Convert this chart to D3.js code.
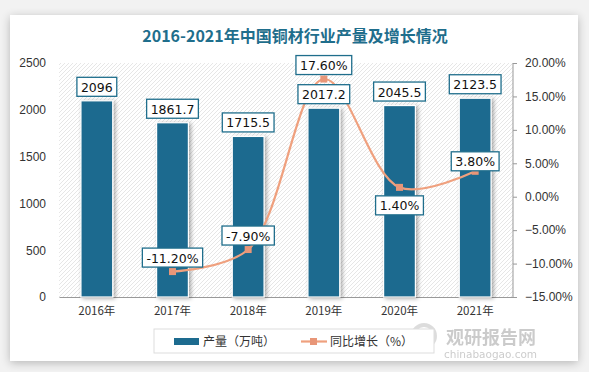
<!DOCTYPE html>
<html>
<head>
<meta charset="utf-8">
<script src="https://cdn.jsdelivr.net/npm/d3@7"></script>
<style>
  body { margin: 0; background: #f2f2f2; }
  svg { display: block; }
</style>
</head>
<body>
<script>
var w = 589,
    h = 372;

var years = ["2016年", "2017年", "2018年", "2019年", "2020年", "2021年"];
var output = [2096, 1861.7, 1715.5, 2017.2, 2045.5, 2123.5];
var growth = [null, -11.2, -7.9, 17.6, 1.4, 3.8];
var leftTicks = [0, 500, 1000, 1500, 2000, 2500];
var rightTicks = [-15, -10, -5, 0, 5, 10, 15, 20];

var barColor = "#1d6b8f",
    lineColor = "#efa07e",
    markColor = "#e89678",
    boxColor = "#1f6e8c";

var plot = { left: 59, right: 513, top: 63, bottom: 297 };

var svg = d3.select("body")
            .append("svg")
            .attr("width", w)
            .attr("height", h);

var defs = svg.append("defs");

var pat = defs.append("pattern")
    .attr("id", "hatch")
    .attr("patternUnits", "userSpaceOnUse")
    .attr("width", 4)
    .attr("height", 4);
pat.append("rect").attr("width", 4).attr("height", 4).attr("fill", "#fff");
pat.append("path")
    .attr("d", "M-1,1 l2,-2 M0,4 l4,-4 M3,5 l2,-2")
    .attr("stroke", "#e0e0e0")
    .attr("stroke-width", 0.8);

var card = defs.append("filter").attr("id", "cardShadow")
    .attr("x", "-5%").attr("y", "-5%").attr("width", "110%").attr("height", "110%");
card.append("feGaussianBlur").attr("in", "SourceAlpha").attr("stdDeviation", 5);
card.append("feOffset").attr("dx", 0).attr("dy", 2).attr("result", "b");
card.append("feComponentTransfer").append("feFuncA").attr("type", "linear").attr("slope", 0.25);
var m1 = card.append("feMerge");
m1.append("feMergeNode");
m1.append("feMergeNode").attr("in", "SourceGraphic");

var barSh = defs.append("filter").attr("id", "barShadow")
    .attr("x", "-30%").attr("y", "-10%").attr("width", "160%").attr("height", "120%");
barSh.append("feGaussianBlur").attr("in", "SourceAlpha").attr("stdDeviation", 2);
barSh.append("feOffset").attr("dx", 2).attr("dy", 1);
barSh.append("feComponentTransfer").append("feFuncA").attr("type", "linear").attr("slope", 0.35);
var m2 = barSh.append("feMerge");
m2.append("feMergeNode");
m2.append("feMergeNode").attr("in", "SourceGraphic");

// card
svg.append("rect")
    .attr("x", 10).attr("y", 15)
    .attr("width", 568).attr("height", 346)
    .attr("fill", "#fff")
    .attr("filter", "url(#cardShadow)");

// title
svg.append("text")
    .attr("x", 295).attr("y", 42)
    .attr("text-anchor", "middle")
    .attr("font-family", "'Noto Sans CJK SC', sans-serif")
    .attr("font-size", "16px")
    .attr("font-weight", "bold")
    .attr("fill", "#1f6e8c")
    .text("2016-2021年中国铜材行业产量及增长情况");

// plot background
svg.append("rect")
    .attr("x", plot.left).attr("y", plot.top)
    .attr("width", plot.right - plot.left)
    .attr("height", plot.bottom - plot.top)
    .attr("fill", "url(#hatch)");

var x = d3.scaleBand()
    .domain(years)
    .range([plot.left, plot.right])
    .paddingInner(0.58)
    .paddingOuter(0.29);

var yL = d3.scaleLinear().domain([0, 2500]).range([plot.bottom, plot.top]);
var yR = d3.scaleLinear().domain([-15, 20]).range([plot.bottom, plot.top]);

var font = "'Liberation Sans', Arial, sans-serif";

// watermark (under the labels)
var wm = svg.append("g").attr("opacity", 0.5);
wm.append("circle")
    .attr("cx", 424).attr("cy", 336).attr("r", 11)
    .attr("fill", "none").attr("stroke", "#bbb").attr("stroke-width", 4);
wm.append("text")
    .attr("x", 446).attr("y", 344)
    .attr("font-family", "'Noto Sans CJK SC', sans-serif")
    .attr("font-size", "18px").attr("font-weight", "bold")
    .attr("fill", "#999")
    .text("观研报告网");
wm.append("text")
    .attr("x", 444).attr("y", 358)
    .attr("font-family", "'DejaVu Sans', sans-serif")
    .attr("font-size", "10.5px")
    .attr("fill", "#999")
    .text("chinabaogao.com");

// left axis
var leftAxis = svg.append("g")
    .attr("transform", "translate(" + plot.left + ",0)")
    .call(d3.axisLeft(yL).tickValues(leftTicks).tickSize(0).tickPadding(13)
        .tickFormat(d3.format("d")));
leftAxis.select(".domain").remove();
leftAxis.selectAll("text")
    .attr("font-family", font).attr("font-size", "12px").attr("fill", "#333");

// right axis
var rightAxis = svg.append("g")
    .attr("transform", "translate(" + plot.right + ",0)")
    .call(d3.axisRight(yR).tickValues(rightTicks).tickSize(4).tickPadding(8)
        .tickFormat(function(d) { return d3.format(".2f")(d) + "%"; }));
rightAxis.select(".domain").attr("stroke", "#999").attr("d", "M0," + plot.top + "V" + plot.bottom);
rightAxis.selectAll("line").attr("stroke", "#999");
rightAxis.selectAll("text")
    .attr("font-family", font).attr("font-size", "12px").attr("fill", "#333");

// bottom axis
var bottomAxis = svg.append("g")
    .attr("transform", "translate(0," + plot.bottom + ")")
    .call(d3.axisBottom(x).tickSize(0).tickPadding(10));
bottomAxis.select(".domain").attr("stroke", "#999").attr("stroke-width", 1.2);
bottomAxis.selectAll("text")
    .attr("font-family", "'Noto Sans CJK SC', sans-serif")
    .attr("font-size", "11.5px").attr("fill", "#333");

// bars
svg.selectAll("rect.bar")
    .data(output)
    .enter()
    .append("rect")
    .attr("class", "bar")
    .attr("x", function(d, i) { return x(years[i]); })
    .attr("y", function(d) { return yL(d); })
    .attr("width", x.bandwidth())
    .attr("height", function(d) { return plot.bottom - yL(d); })
    .attr("fill", barColor)
    .attr("stroke", "#fff")
    .attr("stroke-width", 1.2)
    .attr("filter", "url(#barShadow)");

// growth line
var pts = growth.map(function(d, i) {
    return d === null ? null : [x(years[i]) + x.bandwidth() / 2, yR(d)];
}).filter(function(p) { return p; });

svg.append("path")
    .attr("d", d3.line().curve(d3.curveCatmullRom.alpha(0.5))(pts))
    .attr("fill", "none")
    .attr("stroke", lineColor)
    .attr("stroke-width", 2.2);

svg.selectAll("rect.mark")
    .data(pts)
    .enter()
    .append("rect")
    .attr("class", "mark")
    .attr("x", function(p) { return p[0] - 3.5; })
    .attr("y", function(p) { return p[1] - 3.5; })
    .attr("width", 7).attr("height", 7)
    .attr("fill", markColor);

// label boxes
function labelBox(cx, cy, txt) {
    var g = svg.append("g");
    var t = g.append("text")
        .attr("x", cx).attr("y", cy + 5)
        .attr("text-anchor", "middle")
        .attr("font-family", "'DejaVu Sans', sans-serif")
        .attr("font-size", "12.5px")
        .attr("fill", "#111")
        .text(txt);
    var bb = t.node().getBBox();
    g.insert("rect", "text")
        .attr("x", cx - bb.width / 2 - 4)
        .attr("y", cy - 9.5)
        .attr("width", bb.width + 8)
        .attr("height", 19)
        .attr("fill", "#fff")
        .attr("stroke", boxColor)
        .attr("stroke-width", 1.3);
}

output.forEach(function(d, i) {
    labelBox(x(years[i]) + x.bandwidth() / 2, yL(d) - 14, String(d));
});

var growthOffset = [0, -14, -14, -14, 18, -10];
growth.forEach(function(d, i) {
    if (d === null) return;
    labelBox(x(years[i]) + x.bandwidth() / 2, yR(d) + growthOffset[i], d.toFixed(2) + "%");
});

// legend
var lg = svg.append("g");
lg.append("rect")
    .attr("x", 154).attr("y", 329)
    .attr("width", 280).attr("height", 24)
    .attr("fill", "#fff").attr("stroke", "#ddd");
lg.append("rect")
    .attr("x", 174).attr("y", 338)
    .attr("width", 25).attr("height", 7)
    .attr("fill", barColor);
lg.append("text")
    .attr("x", 203).attr("y", 346)
    .attr("font-family", "'Noto Sans CJK SC', sans-serif")
    .attr("font-size", "12px").attr("fill", "#333")
    .text("产量（万吨）");
lg.append("line")
    .attr("x1", 301).attr("x2", 327).attr("y1", 341.5).attr("y2", 341.5)
    .attr("stroke", lineColor).attr("stroke-width", 2.2);
lg.append("rect")
    .attr("x", 310).attr("y", 338).attr("width", 7).attr("height", 7)
    .attr("fill", markColor);
lg.append("text")
    .attr("x", 330).attr("y", 346)
    .attr("font-family", "'Noto Sans CJK SC', sans-serif")
    .attr("font-size", "12px").attr("fill", "#333")
    .text("同比增长（%）");
</script>
</body>
</html>
